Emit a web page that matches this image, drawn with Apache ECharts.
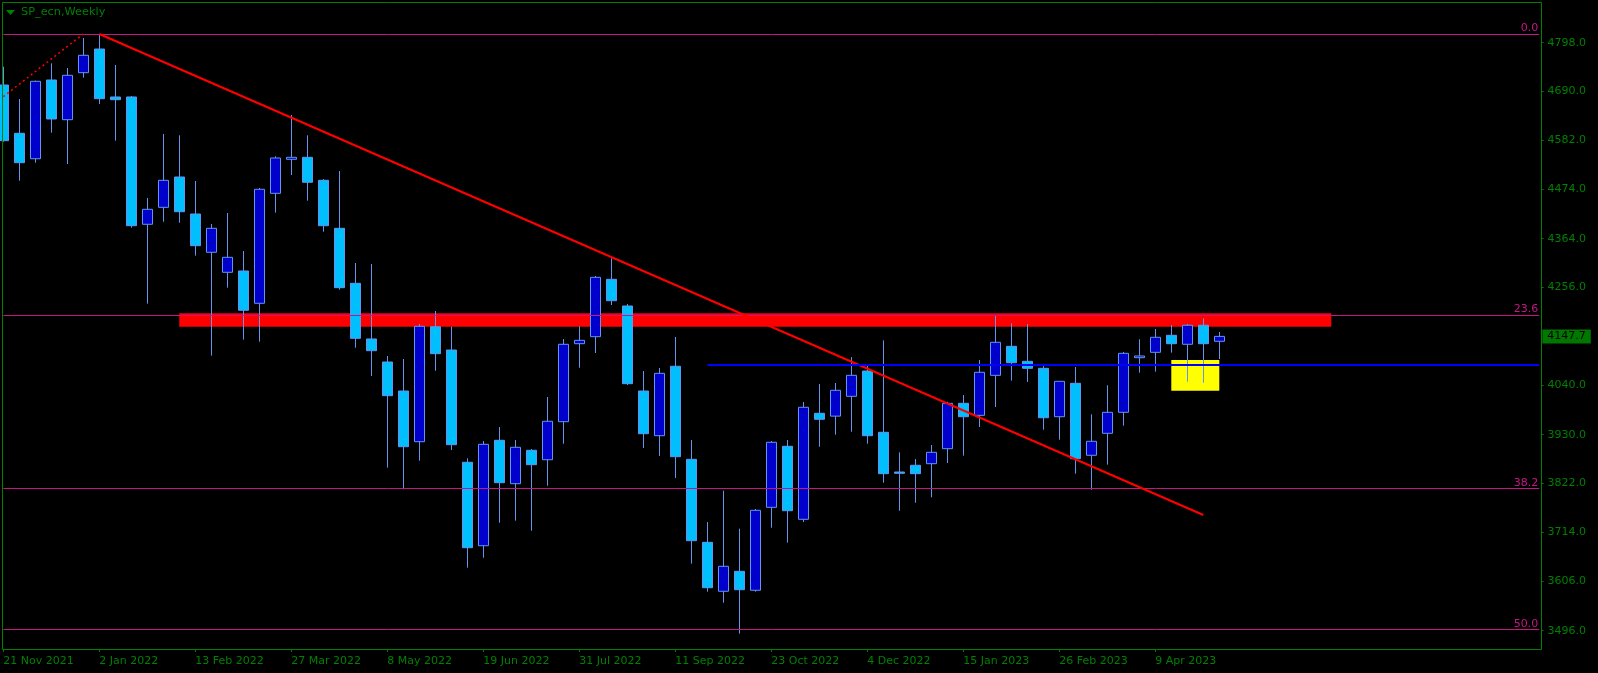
<!DOCTYPE html>
<html>
<head>
<meta charset="utf-8">
<script src="https://cdn.jsdelivr.net/npm/echarts@6/dist/echarts.min.js"></script>
<style>
html,body{margin:0;padding:0;background:#000;}
#chart{width:1598px;height:673px;}
</style>
</head>
<body>
<div id="chart"></div>
<script>
// ---- Data (weekly bars, first bar = week of 21 Nov 2021) ----
const categories = Array.from({length: 97}, (_, i) => 'W' + i); // 77 bars + empty right margin
const tickLabels = ['21 Nov 2021','2 Jan 2022','13 Feb 2022','27 Mar 2022','8 May 2022','19 Jun 2022',
  '31 Jul 2022','11 Sep 2022','23 Oct 2022','4 Dec 2022','15 Jan 2023','26 Feb 2023','9 Apr 2023'];
const priceTicks = [4798, 4690, 4582, 4474, 4364, 4256, 4040, 3930, 3822, 3714, 3606, 3496];

const openPrices = [4704.3,4597.4,4541.1,4715.4,4627.5,4731.6,4784.0,4677.8,4677.8,4395.9,
  4433.5,4500.6,4418.7,4333.9,4289.6,4292.5,4221.0,4464.5,4539.8,4544.2,
  4493.3,4387.0,4265.2,4142.0,4091.0,4026.7,3914.5,4169.1,4117.5,3868.9,
  3684.2,3917.6,3821.5,3895.5,3874.6,3958.8,4131.5,4147.0,4274.1,4215.0,
  4026.7,3927.8,4081.5,3875.5,3691.7,3583.3,3627.5,3585.5,3769.2,3904.3,
  3742.7,3977.4,3971.1,4015.0,4071.0,3935.3,3847.4,3862.3,3865.8,3899.0,
  3999.5,3972.9,4061.5,4125.7,4092.5,4077.0,3969.8,4043.8,3884.4,3933.1,
  3979.6,4100.5,4112.4,4150.1,4130.2,4172.3,4136.8];
const highPrices = [4744.9,4673.3,4714.0,4752.4,4742.0,4808.4,4815.7,4748.6,4680.0,4454.1,
  4595.8,4593.0,4491.8,4396.5,4420.9,4336.8,4476.3,4546.5,4638.0,4593.0,
  4496.0,4513.9,4310.2,4308.0,4104.3,4097.6,4175.0,4203.9,4169.1,3877.7,
  3916.0,3947.0,3918.3,3898.4,4013.5,4141.9,4170.0,4281.4,4320.6,4219.4,
  4071.0,4077.7,4146.3,3918.3,3736.7,3806.1,3721.8,3765.5,3916.0,3918.3,
  4002.4,4042.3,4044.5,4102.0,4082.0,4139.0,3891.0,3876.0,3907.2,4003.0,
  4017.9,4095.4,4192.8,4176.7,4175.1,4082.0,4049.0,4079.9,3975.2,4039.4,
  4113.1,4141.3,4164.0,4172.9,4175.1,4187.7,4157.4];
const lowPrices = [4579.0,4492.4,4532.3,4598.7,4529.4,4720.5,4662.3,4581.0,4388.4,4220.1,
  4401.6,4399.4,4326.4,4105.0,4255.5,4140.4,4136.0,4421.6,4505.0,4448.1,
  4379.5,4251.0,4122.6,4060.0,3857.0,3809.1,3872.4,4071.7,3896.1,3635.5,
  3657.6,3735.1,3739.6,3717.4,3817.0,3910.0,4078.3,4110.9,4217.2,4040.0,
  3900.5,3883.0,3834.0,3644.4,3582.4,3558.0,3489.4,3582.4,3724.0,3691.0,
  3736.7,3903.4,3930.0,3936.6,3910.0,3823.7,3761.7,3779.4,3791.4,3867.4,
  3883.5,3947.0,3991.3,4049.6,4046.7,3941.1,3918.9,3843.7,3808.2,3863.6,
  3949.9,4067.3,4069.5,4111.6,4047.3,4045.1,4097.6];
const closePrices = [4581.0,4532.3,4712.5,4629.1,4725.8,4770.1,4674.0,4671.8,4392.8,4429.1,
  4493.3,4423.8,4348.5,4387.0,4322.8,4205.5,4473.4,4542.7,4544.2,4488.9,
  4392.8,4255.5,4143.4,4116.0,4016.4,3903.4,4170.0,4109.4,3907.9,3679.8,
  3908.7,3823.7,3902.1,3863.6,3959.7,4130.2,4139.0,4278.5,4226.7,4043.0,
  3932.2,4065.9,3881.3,3695.3,3591.2,3638.6,3586.8,3762.6,3913.2,3761.7,
  3990.7,3964.1,4028.3,4061.5,3927.8,3843.7,3844.5,3843.7,3891.0,3999.5,
  3969.8,4068.2,4134.6,4089.4,4077.0,3967.6,4048.2,3876.8,3915.4,3979.6,
  4110.2,4104.3,4145.7,4131.5,4172.3,4131.5,4147.7];

// Annotations (bar index, price)
const fibLevels = [4817.3, 4195.0, 3811.3, 3499.0];
const fibLabels = ['0.0', '23.6', '38.2', '50.0'];
const resistanceZone = {fromBar: 11, toBar: 83, top: 4198.8, bottom: 4169.1};
const yellowZone = {fromBar: 73, toBar: 76, top: 4095.4, bottom: 4027.4};
const trendLine = {fromBar: 6, fromPrice: 4817.3, toBar: 75, toPrice: 3752.2};
const fibAnchorLine = {fromBar: 0, fromPrice: 4678.4, toBar: 5, toPrice: 4817.3};
const blueLevel = {fromBar: 44, toBar: 96, price: 4085.0};
const lastPrice = 4147.7;

const Y_MIN = 3455.48, Y_MAX = 4888.12;
const FONT = 'DejaVu Sans';
const GREEN = '#008000';
const FIB = '#C71585';

const candleData = openPrices.map((o, i) => [o, closePrices[i], lowPrices[i], highPrices[i]]);
const tickShown = (i) => i % 6 === 0 && i / 6 < tickLabels.length;

const chart = echarts.init(document.getElementById('chart'), null, {renderer: 'canvas'});
const option = {
  backgroundColor: '#000000',
  animation: false,
  grid: {left: 3.3, top: 2, width: 1536, height: 647, containLabel: false, outerBoundsMode: 'none'},
  xAxis: {
    type: 'category', data: categories, boundaryGap: false,
    axisLine: {show: false},
    axisTick: {show: true, length: 3, interval: (i) => tickShown(i), lineStyle: {color: GREEN, width: 1}},
    axisLabel: {
      interval: (i) => tickShown(i),
      formatter: (v, i) => (tickShown(i) ? tickLabels[i / 6] : ''),
      align: 'left', margin: 7, color: GREEN, fontFamily: FONT, fontSize: 11
    },
    splitLine: {show: false}
  },
  yAxis: {
    type: 'value', position: 'right', min: Y_MIN, max: Y_MAX, offset: 2.2,
    axisLine: {show: false},
    axisTick: {show: true, length: 2, customValues: priceTicks, lineStyle: {color: GREEN}},
    axisLabel: {customValues: priceTicks, formatter: (v) => Number(v).toFixed(1), margin: 6,
      color: GREEN, fontFamily: FONT, fontSize: 11},
    splitLine: {show: false}
  },
  graphic: [
    {type: 'rect', z: 100, silent: true, shape: {x: 2.5, y: 2.5, width: 1539, height: 647},
      style: {fill: null, stroke: GREEN, lineWidth: 1}},
    {type: 'polygon', z: 100, silent: true, shape: {points: [[6, 10], [15, 10], [10.5, 15]]},
      style: {fill: GREEN}},
    {type: 'text', z: 100, silent: true, left: 21, top: 7,
      style: {text: 'SP_ecn,Weekly', fill: GREEN, font: '11.3px "DejaVu Sans"'}}
  ],
  series: [
    {
      type: 'line', data: [], z: 1, silent: true,
      markArea: {
        silent: true,
        data: [
          [{coord: [resistanceZone.fromBar, resistanceZone.top], itemStyle: {color: '#FF0000', opacity: 1}},
           {coord: [resistanceZone.toBar, resistanceZone.bottom]}],
          [{coord: [yellowZone.fromBar, yellowZone.top], itemStyle: {color: '#FFFF00', opacity: 1}},
           {coord: [yellowZone.toBar, yellowZone.bottom]}]
        ]
      }
    },
    {
      type: 'candlestick', data: candleData, z: 2, barWidth: 10,
      itemStyle: {color: '#0000CD', color0: '#00BFFF', borderColor: '#6495ED', borderColor0: '#6495ED',
        borderColorDoji: '#6495ED', borderWidth: 1}
    },
    {
      type: 'line', data: [], z: 3, silent: true,
      markLine: {
        silent: true, symbol: ['none', 'none'], animation: false,
        data: [
          ...fibLevels.map((v, k) => ({
            yAxis: v,
            lineStyle: {color: FIB, width: 1, type: 'solid'},
            label: {show: true, position: 'insideEndTop', formatter: fibLabels[k], color: FIB,
              fontFamily: FONT, fontSize: 11, distance: [1, 0]}
          })),
          [{coord: [trendLine.fromBar, trendLine.fromPrice], lineStyle: {color: '#FF0000', width: 2, type: 'solid'}, label: {show: false}},
           {coord: [trendLine.toBar, trendLine.toPrice]}],
          [{coord: [fibAnchorLine.fromBar, fibAnchorLine.fromPrice], lineStyle: {color: '#FF0000', width: 1.5, type: [2, 3]}, label: {show: false}},
           {coord: [fibAnchorLine.toBar, fibAnchorLine.toPrice]}],
          [{coord: [blueLevel.fromBar, blueLevel.price], lineStyle: {color: '#0000FF', width: 2, type: 'solid'}, label: {show: false}},
           {coord: [blueLevel.toBar, blueLevel.price]}],
          {yAxis: lastPrice, lineStyle: {color: 'rgba(0,0,0,0)', width: 0},
            label: {show: true, position: 'end', distance: 3, formatter: lastPrice.toFixed(1),
              backgroundColor: '#007800', color: '#000000', padding: [1, 5, 1, 5], lineHeight: 12,
              fontFamily: FONT, fontSize: 11}}
        ]
      }
    }
  ]
};
chart.setOption(option);
</script>
</body>
</html>
